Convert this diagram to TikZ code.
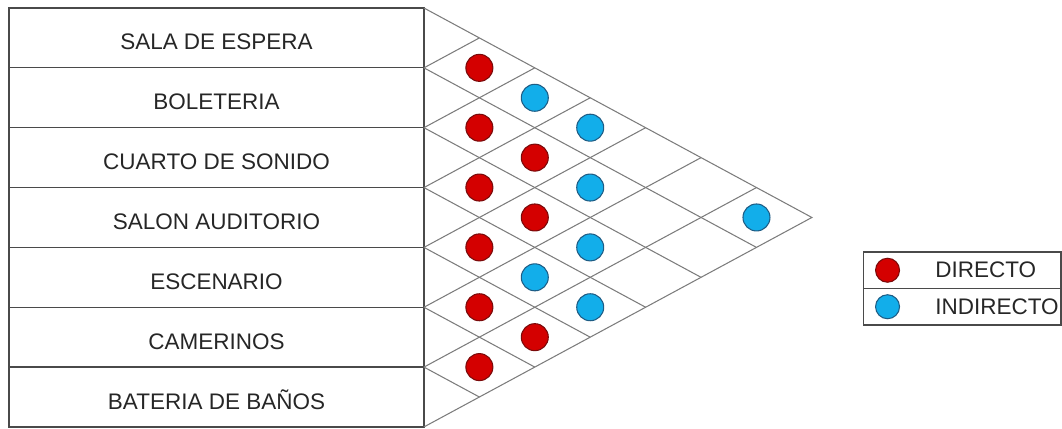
\documentclass[tikz,border=0pt]{standalone}
\usepackage{fontspec}
\setmainfont{Liberation Sans}
\usetikzlibrary{positioning}
\definecolor{ink}{HTML}{4A4A4A}
\definecolor{gridgray}{HTML}{7C7C7C}
\definecolor{textgray}{HTML}{262626}
\definecolor{directfill}{HTML}{D40000}
\definecolor{directline}{HTML}{7A0A0A}
\definecolor{indirectfill}{HTML}{12AEEA}
\definecolor{indirectline}{HTML}{1E5C84}
\tikzset{
  font=\fontsize{12.8}{15}\selectfont,
  room/.style={
    draw=ink,
    line width=0.7pt,
    minimum width=8.3cm,
    minimum height=1.1972cm,
    text height=2.6ex,
    text depth=0pt,
    inner sep=0pt,
    outer sep=0pt,
    text=textgray
  },
  gridline/.style={draw=gridgray, line width=0.6pt},
  direct/.style={
    circle,
    draw=directline,
    fill=directfill,
    line width=0.6pt,
    minimum size=0.54cm,
    inner sep=0pt
  },
  indirect/.style={direct, draw=indirectline, fill=indirectfill},
  legendrow/.style={
    draw=ink,
    line width=0.6pt,
    minimum width=3.96cm,
    minimum height=0.73cm,
    inner sep=0pt,
    outer sep=0pt
  },
  legend label/.style={text=textgray, inner sep=0pt}
}

\begin{document}
\begin{tikzpicture}[x=0.02cm,y=0.02cm]
  \useasboundingbox (0,0) rectangle (1062,429);

  % Room list
  \node[room] (sala) at (216.5,391.07) {SALA DE ESPERA};
  \node[room, below=0pt of sala] (boleteria) {BOLETERIA};
  \node[room, below=0pt of boleteria] (sonido) {CUARTO DE SONIDO};
  \node[room, below=0pt of sonido] (auditorio) {SALON AUDITORIO};
  \node[room, below=0pt of auditorio] (escenario) {ESCENARIO};
  \node[room, below=0pt of escenario] (camerinos) {CAMERINOS};
  \node[room, below=0pt of camerinos] (banos) {BATERIA DE BA\~NOS};

  % Relation matrix: one step right = one cell, one step down = one row
  \begin{scope}[shift={(sala.north east)}, x={(1.1086cm,0)}, y={(0,-1.1972cm)}]
    \draw[gridline] (0,0) -- (7,3.5) -- (0,7);
    \foreach \k in {1,...,6} {
      \draw[gridline] (0,\k) -- ({7-\k},{\k+(7-\k)/2});
      \draw[gridline] (0,\k) -- (\k,{\k/2});
    }
    \foreach \i/\j in {0/1,1/2,2/3,3/4,4/5,5/6,1/3,2/4,4/6}
      \node[direct] (rel\i\j) at ({\j-\i},{(\i+\j)/2+0.5}) {};
    \foreach \i/\j in {0/2,0/3,1/4,2/5,3/5,3/6,0/6}
      \node[indirect] (rel\i\j) at ({\j-\i},{(\i+\j)/2+0.5}) {};
  \end{scope}

  % Legend
  \node[legendrow] (keydirect) at (962,158.75) {};
  \node[legendrow, below=0pt of keydirect] (keyindirect) {};
  \node[direct, minimum size=0.48cm, right=0.24cm of keydirect.west] (dotdirect) {};
  \node[indirect, minimum size=0.48cm, right=0.24cm of keyindirect.west] (dotindirect) {};
  \node[legend label, right=1.44cm of keydirect.west] (labdirect) {DIRECTO};
  \node[legend label, right=1.44cm of keyindirect.west] (labindirect) {INDIRECTO};
\end{tikzpicture}
\end{document}
